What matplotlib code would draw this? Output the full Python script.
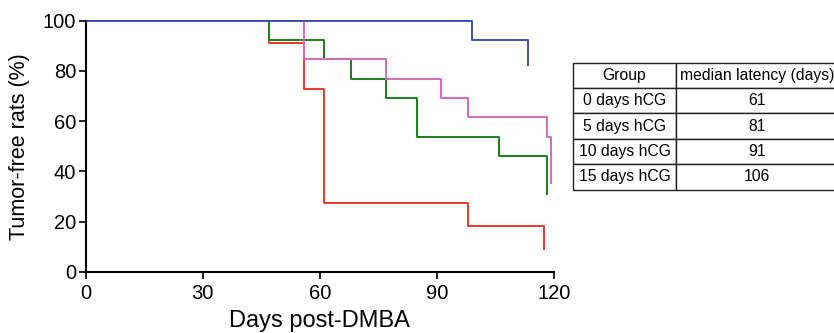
import matplotlib.pyplot as plt

plt.rcParams['font.family'] = ['Liberation Sans', 'DejaVu Sans']

# Kaplan-Meier style steps (day, % tumor-free)
red_days = [0, 47, 56, 61, 98, 117.5]
red_pct = [100, 90.9, 72.7, 27.3, 18.2, 9.1]

green_days = [0, 47, 61, 68, 77, 85, 106, 118.3]
green_pct = [100, 92.3, 84.6, 76.9, 69.2, 53.8, 46.2, 30.8]

pink_days = [0, 56, 77, 91, 98, 118.3, 119.3]
pink_pct = [100, 84.6, 76.9, 69.2, 61.5, 53.8, 35.4]

blue_days = [0, 99, 113.5]
blue_pct = [100, 92.3, 82.5]

groups = ['0 days hCG', '5 days hCG', '10 days hCG', '15 days hCG']
median_latency = ['61', '81', '91', '106']

fig = plt.figure(figsize=(8.34, 3.33), dpi=100)
ax = fig.add_axes([0.103, 0.184, 0.561, 0.754])

ax.plot(red_days, red_pct, drawstyle='steps-post', color='#e8392a', lw=1.4)
ax.plot(green_days, green_pct, drawstyle='steps-post', color='#1a801a', lw=1.4)
ax.plot(pink_days, pink_pct, drawstyle='steps-post', color='#d868b8', lw=1.4)
ax.plot(blue_days, blue_pct, drawstyle='steps-post', color='#3a4faa', lw=1.4, clip_on=False)

ax.set_xlim(0, 120)
ax.set_ylim(0, 100)
ax.set_xticks([0, 30, 60, 90, 120])
ax.set_yticks([0, 20, 40, 60, 80, 100])
ax.spines['top'].set_visible(False)
ax.spines['right'].set_visible(False)
for s in ['left', 'bottom']:
    ax.spines[s].set_linewidth(1.5)
ax.tick_params(direction='out', length=5, width=1.2, labelsize=14.5)
ax.tick_params(axis='x', pad=4)
ax.tick_params(axis='y', pad=2)
ax.set_xlabel('Days post-DMBA', fontsize=17, labelpad=5)
ax.set_ylabel('Tumor-free rats (%)', fontsize=15.5, labelpad=9)

# table of median latency
cells = [['Group', 'median latency (days)']] + [[g, m] for g, m in zip(groups, median_latency)]
tab = ax.table(cellText=cells, cellLoc='center',
               bbox=[1.041, 0.327, 0.565, 0.506], colWidths=[103, 161])
tab.auto_set_font_size(False)
tab.set_fontsize(11.3)
for (r, c), cell in tab.get_celld().items():
    cell.set_linewidth(1.0)
    cell.set_edgecolor('#222222')

fig.savefig('out.png', dpi=100)
